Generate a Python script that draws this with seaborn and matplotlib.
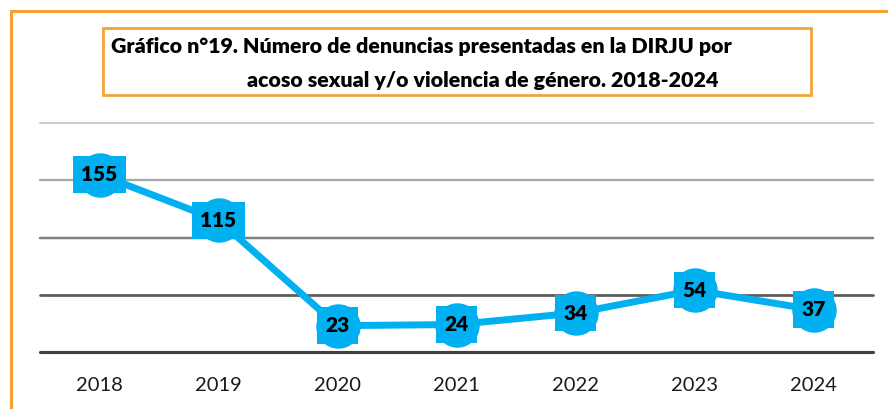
import matplotlib
matplotlib.use("Agg")
import matplotlib.pyplot as plt
import seaborn as sns
import pandas as pd
from matplotlib.patches import Rectangle

years = ["2018", "2019", "2020", "2021", "2022", "2023", "2024"]
denuncias = [155, 115, 23, 24, 34, 54, 37]
y_ticks = [0, 50, 100, 150, 200]
title_line1 = "Gráfico n°19. Número de denuncias presentadas en la DIRJU por"
title_line2 = "acoso sexual y/o violencia de género. 2018-2024"

BLUE = "#00B0F0"
ORANGE = "#F4A236"
FONT = "Lato"

sns.set_theme(style="white")
plt.rcParams['font.family'] = [FONT, 'DejaVu Sans']

W, H = 888, 409
fig = plt.figure(figsize=(W / 100, H / 100), dpi=100)

def fx(px):
    return px / W

def fy(py):
    return 1 - py / H

ax = fig.add_axes([fx(40), fy(352), fx(873) - fx(40), fy(123) - fy(352)])

df = pd.DataFrame({"year": years, "denuncias": denuncias})
df["pos"] = range(len(years))

sns.lineplot(data=df, x="pos", y="denuncias", ax=ax, color=BLUE, linewidth=5,
             marker="o", markersize=32, markeredgewidth=0, markerfacecolor=BLUE,
             zorder=3)

for i, v in enumerate(denuncias):
    ax.text(i, v, str(v), ha="center", va="center", fontsize=15,
            fontweight="heavy", color="black", zorder=4,
            bbox=dict(boxstyle="square,pad=0.42", fc=BLUE, ec="none"))

ax.set_xlim(-0.5, len(years) - 0.5)
ax.set_ylim(0, 200)
ax.set_yticks(y_ticks)
ax.set_yticklabels([])
ax.set_xticks(range(len(years)))
ax.set_xticklabels(years, fontsize=14.5)
ax.tick_params(axis="x", length=0, pad=18, colors="#1a1a1a")
ax.tick_params(axis="y", length=0)
ax.set_xlabel("")
ax.set_ylabel("")
for s in ax.spines.values():
    s.set_visible(False)

grid_colors = ["#404040", "#595959", "#7f7f7f", "#a6a6a6", "#cccccc"]
grid_widths = [3.0, 2.6, 2.4, 2.2, 2.0]
for t, c, w in zip(y_ticks, grid_colors, grid_widths):
    ax.axhline(t, color=c, linewidth=w * 0.75, zorder=1, clip_on=False)

# outer frame
fig.patches.append(Rectangle((fx(11), fy(H + 20)), fx(W + 20) - fx(11), fy(11) - fy(H + 20),
                             transform=fig.transFigure, fill=False, ec=ORANGE, lw=2.2))
# title box
fig.patches.append(Rectangle((fx(103), fy(95)), fx(811) - fx(103), fy(28) - fy(95),
                             transform=fig.transFigure, fill=False, ec=ORANGE, lw=2.0))
fig.text(fx(111), fy(47), title_line1, ha="left", va="center", fontsize=15.4,
         fontweight="heavy", color="black")
fig.text(fx(247), fy(80), title_line2, ha="left", va="center", fontsize=15.4,
         fontweight="heavy", color="black")

fig.savefig("out.png", dpi=100, facecolor="white")
